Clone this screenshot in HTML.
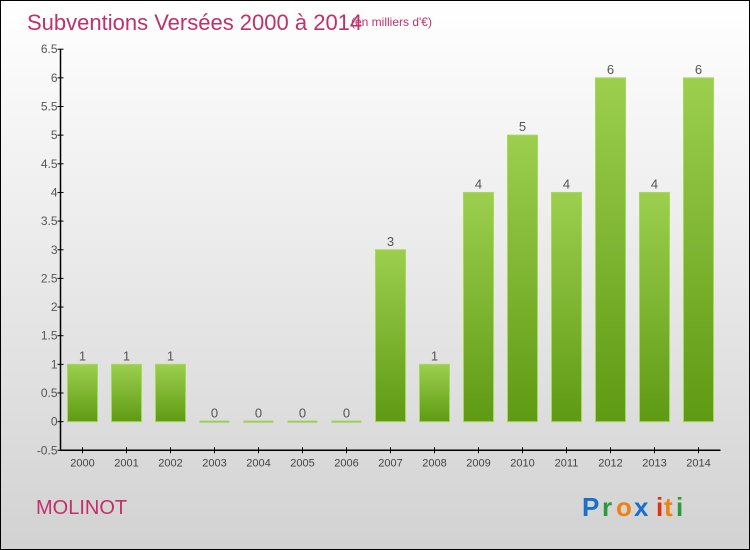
<!DOCTYPE html>
<html><head><meta charset="utf-8"><style>
body{margin:0}
#c{position:relative;width:750px;height:550px;box-sizing:border-box;border:1px solid #000;background:linear-gradient(#fff,#d2d2d2);font-family:"Liberation Sans",sans-serif;overflow:hidden}
</style></head><body>
<div id="c">
<svg id="s" width="750" height="550" style="position:absolute;left:-1px;top:-1px">
<defs><linearGradient id="g" x1="0" y1="0" x2="0" y2="1"><stop offset="0" stop-color="#9ccf4e"/><stop offset="1" stop-color="#5f9a14"/></linearGradient></defs>
<text x="27" y="30" font-size="22" fill="#c0306a">Subventions Versées 2000 à 2014</text>
<text x="351" y="26" font-size="12" fill="#c0306a">(en milliers d'€)</text>
<text x="36" y="514" font-size="20" fill="#c0306a">MOLINOT</text>
<g font-size="26" font-weight="bold">
<text x="582" y="516" fill="#1a6fc9">P</text><text x="602" y="516" fill="#2a9a3a">r</text><text x="616" y="516" fill="#f08010">o</text><text x="634" y="516" fill="#1a6fc9">x</text><text x="656" y="516" fill="#e03010">i</text><text x="664" y="516" fill="#f08010">t</text><text x="676" y="516" fill="#2a9a3a">i</text>
</g>
<g id="plot"></g>
</svg>
</div>
<script>
const categories=["2000","2001","2002","2003","2004","2005","2006","2007","2008","2009","2010","2011","2012","2013","2014"];
const values=[1,1,1,0,0,0,0,3,1,4,5,4,6,4,6];
const yTicks=[-0.5,0,0.5,1,1.5,2,2.5,3,3.5,4,4.5,5,5.5,6,6.5];
const ns="http://www.w3.org/2000/svg";
const g=document.getElementById('plot');
const x0=60.5,band=44,yMin=-0.5,yMax=6.5,yTop=49.2,yBot=450.3;
function y(v){return yBot-(v-yMin)/(yMax-yMin)*(yBot-yTop);}
function xc(i){return x0+band*(i+0.5);}
function mk(t,a){const e=document.createElementNS(ns,t);for(const k in a)e.setAttribute(k,a[k]);g.appendChild(e);return e;}
const ya=mk('line',{x1:x0,y1:yTop,x2:x0,y2:yBot,stroke:'#000','stroke-width':1.5});


const xa=mk('line',{x1:x0,y1:yBot,x2:x0+band*categories.length,y2:yBot,stroke:'#000','stroke-width':1.5});


yTicks.forEach(v=>{
 mk('line',{x1:x0-3,y1:y(v),x2:x0+3,y2:y(v),stroke:'#000'});
 const t=mk('text',{x:x0-3,y:y(v)+4,'text-anchor':'end','font-size':12,fill:'#555'});
 t.textContent=v;
 
 
});
categories.forEach((c,i)=>{
 mk('line',{x1:xc(i),y1:yBot-3,x2:xc(i),y2:yBot+3,stroke:'#000'});
 const t=mk('text',{x:xc(i),y:yBot+16,'text-anchor':'middle','font-size':11,fill:'#444'});
 t.textContent=c;
 
 
 const v=values[i];
 let r;
 if(v>0){r=mk('rect',{x:xc(i)-15,y:y(v),width:30,height:y(0)-y(v),fill:'url(#g)',stroke:'#a6d860','stroke-width':1});}
 else{r=mk('rect',{x:xc(i)-15,y:y(0)-1,width:30,height:2,fill:'#9ccf4e'});}
 
 
 const l=mk('text',{x:xc(i),y:y(v)-4,'text-anchor':'middle','font-size':13,fill:'#555'});
 l.textContent=v;
 
 
});
</script>
</body></html>
